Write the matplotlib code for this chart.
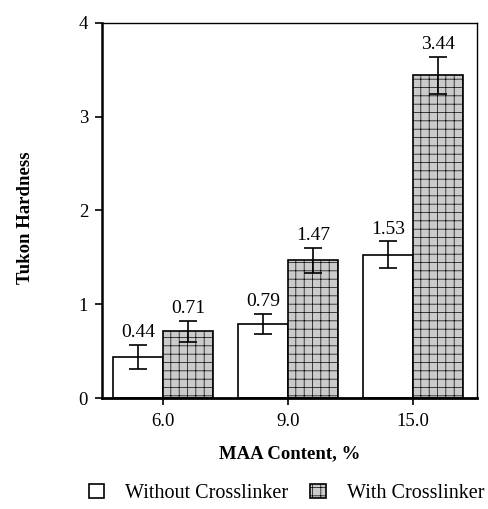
import numpy as np
import matplotlib
matplotlib.use("Agg")
import matplotlib.pyplot as plt

plt.rcParams['font.family'] = ['Liberation Serif', 'DejaVu Serif']
plt.rcParams['hatch.color'] = '#a8a8a8'
plt.rcParams['hatch.linewidth'] = 0.5

# Data
categories = ['6.0', '9.0', '15.0']
without_xl = [0.44, 0.79, 1.53]
without_err = [0.13, 0.11, 0.14]
with_xl = [0.71, 1.47, 3.44]
with_err = [0.11, 0.135, 0.20]

x = np.arange(len(categories))
width = 0.4

fig = plt.figure(figsize=(4.89, 5.09), dpi=100)
ax = fig.add_axes([0.2086, 0.218, 0.767, 0.737])

b1 = ax.bar(x - width/2, without_xl, width, color='white', edgecolor='black',
            linewidth=1.2, yerr=without_err, capsize=6.5,
            error_kw=dict(elinewidth=1.2, capthick=1.2, ecolor='black'),
            label='Without Crosslinker', zorder=2)
b2 = ax.bar(x + width/2, with_xl, width, color='#cbcbcb', edgecolor='black',
            linewidth=1.2, hatch='++', yerr=with_err, capsize=6.5,
            error_kw=dict(elinewidth=1.2, capthick=1.2, ecolor='black'),
            label='With Crosslinker', zorder=2)

# value labels above error bars
for xs, vals, errs in [(x - width/2, without_xl, without_err),
                       (x + width/2, with_xl, with_err)]:
    for xi, v, e in zip(xs, vals, errs):
        ax.text(xi, v + e + 0.04, f"{v:.2f}", ha='center', va='bottom', fontsize=14)

ax.set_xlim(-0.49, 2.51)
ax.set_ylim(0, 4)
ax.set_xticks(x)
ax.set_xticklabels(categories)
ax.set_yticks([0, 1, 2, 3, 4])
ax.tick_params(axis='both', direction='out', length=5, width=1.2, labelsize=13.5)
ax.tick_params(axis='x', pad=6)
ax.tick_params(axis='y', pad=5)

ax.spines['left'].set_linewidth(1.8)
ax.spines['bottom'].set_linewidth(2.0)
ax.spines['top'].set_linewidth(1.0)
ax.spines['right'].set_linewidth(1.0)

ax.set_xlabel('MAA Content, %', fontsize=13.5, fontweight='bold', labelpad=11)
ax.set_ylabel('Tukon Hardness', fontsize=13.5, fontweight='bold')
ax.yaxis.set_label_coords(-0.18, 0.48)

fig.legend(handles=[b1, b2], loc='center', bbox_to_anchor=(0.586, 0.031),
           ncol=2, frameon=False, fontsize=14.5, handlelength=0.75,
           handleheight=0.75, handletextpad=1.05, columnspacing=1.1)

fig.savefig('out.png', dpi=100)
